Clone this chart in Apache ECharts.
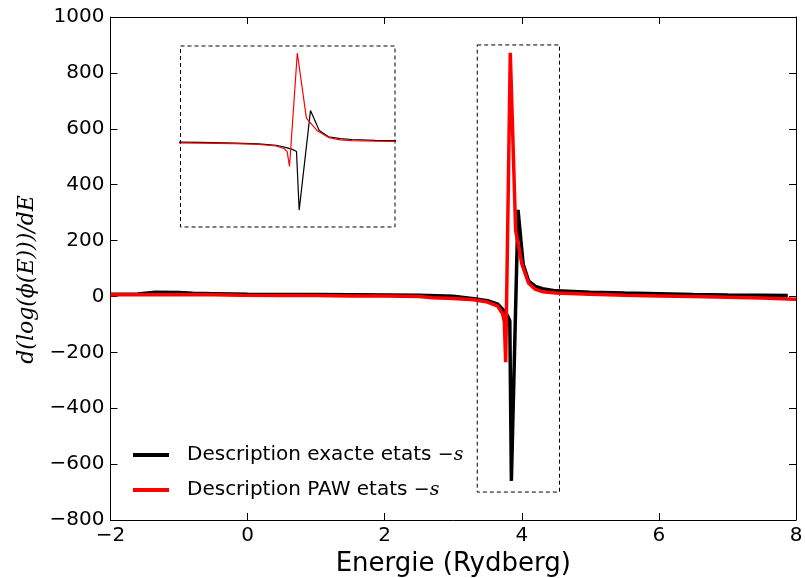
<!DOCTYPE html>
<html><head><meta charset="utf-8">
<script src="https://cdn.jsdelivr.net/npm/echarts@6/dist/echarts.min.js"></script>
<style>html,body{margin:0;padding:0;background:#fff}#c{width:805px;height:578px}</style>
</head><body><div id="c"></div>
<script>
// ---- data ----
const xTicks = [-2, 0, 2, 4, 6, 8];
const yTicks = [-800, -600, -400, -200, 0, 200, 400, 600, 800, 1000];
const exactE = [-2.0, -1.6, -1.35, -1.0, -0.8, -0.5, 0.0, 0.5, 1.0, 1.5, 2.0, 2.5, 3.0, 3.3, 3.5, 3.65, 3.73, 3.79, 3.825, 3.848, 3.945, 4.02, 4.1, 4.2, 4.3, 4.5, 5.0, 5.5, 6.0, 6.5, 7.0, 7.5, 7.88];
const exactV = [8, 9, 15, 14, 11, 10, 8, 7, 7, 6, 5, 4, 1, -8, -15, -28, -48, -68, -88, -660, 310, 115, 55, 36, 28, 20, 15, 12, 10, 7, 5, 4, 3];
const pawE = [-2.0, -1.5, -1.0, -0.5, -0.1, 0.5, 1.0, 1.5, 2.0, 2.5, 2.7, 3.0, 3.3, 3.5, 3.65, 3.72, 3.745, 3.765, 3.832, 3.91, 4.0, 4.1, 4.2, 4.3, 4.5, 5.0, 5.5, 6.0, 6.5, 7.0, 7.5, 8.0];
const pawV = [6, 6, 6, 6, 4, 3, 3, 2, 2, 0, -5, -7, -12, -20, -35, -62, -90, -235, 872, 237, 117, 47, 25, 17, 12, 8, 4, 2, 0, -3, -6, -10];
const seriesNames = ['Description exacte etats', 'Description PAW etats'];
const zoomBoxX = [3.35, 4.55];
const zoomBoxY = [-700, 900];
const insetX = [2.83, 4.67];
const insetY = [-825, 940];

const pairs = (xs, ys) => xs.map((x, i) => [x, ys[i]]);
const minus = v => String(v).replace('-', '\u2212');
const FONT = 'DejaVu Sans';

const chart = echarts.init(document.getElementById('c'), null, {renderer: 'canvas'});
const tickAxisCommon = () => ({
  axisLine: {show: true, onZero: false, lineStyle: {color: '#000', width: 1}},
  axisTick: {show: true, inside: true, length: 7, lineStyle: {color: '#000'}},
  splitLine: {show: false}
});
chart.setOption({
  animation: false,
  backgroundColor: '#fff',
  grid: [
    {left: 110.5, right: 9, top: 17, bottom: 58, containLabel: false, outerBoundsMode: 'none'},
    {left: 180.5, top: 46, width: 214.5, height: 181, containLabel: false, outerBoundsMode: 'none'}
  ],
  xAxis: [
    Object.assign({type: 'value', gridIndex: 0, min: -2, max: 8, interval: 2, position: 'bottom',
      name: 'Energie (Rydberg)', nameLocation: 'middle', nameGap: 29,
      nameTextStyle: {fontFamily: FONT, fontSize: 26, color: '#000'},
      axisLabel: {fontFamily: FONT, fontSize: 20, color: '#000', margin: 6, formatter: minus}}, tickAxisCommon()),
    Object.assign({type: 'value', gridIndex: 0, min: -2, max: 8, interval: 2, position: 'top',
      axisLabel: {show: false}}, tickAxisCommon()),
    {type: 'value', gridIndex: 1, min: insetX[0], max: insetX[1], show: false}
  ],
  yAxis: [
    Object.assign({type: 'value', gridIndex: 0, min: -800, max: 1000, interval: 200, position: 'left',
      name: 'd(log(\u03D5(E)))/dE', nameLocation: 'middle', nameGap: 72,
      nameTextStyle: {fontFamily: 'DejaVu Serif', fontStyle: 'italic', fontSize: 22, color: '#000', padding: [0, 22, 0, 0]},
      axisLabel: {fontFamily: FONT, fontSize: 20, color: '#000', margin: 6, formatter: minus}}, tickAxisCommon()),
    Object.assign({type: 'value', gridIndex: 0, min: -800, max: 1000, interval: 200, position: 'right',
      axisLabel: {show: false}}, tickAxisCommon()),
    {type: 'value', gridIndex: 1, min: insetY[0], max: insetY[1], show: false}
  ],
  legend: {
    data: seriesNames,
    orient: 'vertical',
    left: 128, top: 440,
    itemWidth: 36, itemHeight: 4, itemGap: 15,
    icon: 'rect',
    formatter: n => '{t|' + n + ' }{m|\u2212s}',
    textStyle: {
      padding: [0, 0, 0, 13],
      rich: {
        t: {fontFamily: FONT, fontSize: 20, color: '#000'},
        m: {fontFamily: 'DejaVu Serif', fontStyle: 'italic', fontSize: 19, color: '#000'}
      }
    }
  },
  series: [
    {name: seriesNames[0], type: 'line', xAxisIndex: 0, yAxisIndex: 0, data: pairs(exactE, exactV),
      symbol: 'none', lineStyle: {color: '#000', width: 3.5}, itemStyle: {color: '#000'}, z: 2,
      markArea: {silent: true, itemStyle: {color: 'rgba(0,0,0,0)', borderColor: '#000', borderWidth: 1, borderType: [4, 3]},
        data: [[{coord: [zoomBoxX[0], zoomBoxY[1]]}, {coord: [zoomBoxX[1], zoomBoxY[0]]}]]}},
    {name: seriesNames[1], type: 'line', xAxisIndex: 0, yAxisIndex: 0, data: pairs(pawE, pawV),
      symbol: 'none', lineStyle: {color: '#ff0000', width: 3.5}, itemStyle: {color: '#ff0000'}, z: 3},
    {name: 'inset exact', type: 'line', xAxisIndex: 2, yAxisIndex: 2, data: pairs(exactE, exactV),
      symbol: 'none', lineStyle: {color: '#000', width: 1.2}, clip: true, z: 2,
      markArea: {silent: true, itemStyle: {color: 'rgba(0,0,0,0)', borderColor: '#000', borderWidth: 1, borderType: [4, 3]},
        data: [[{coord: [insetX[0], insetY[1]]}, {coord: [insetX[1], insetY[0]]}]]}},
    {name: 'inset paw', type: 'line', xAxisIndex: 2, yAxisIndex: 2, data: pairs(pawE, pawV),
      symbol: 'none', lineStyle: {color: '#ff0000', width: 1.2}, clip: true, z: 3}
  ]
});
</script></body></html>
